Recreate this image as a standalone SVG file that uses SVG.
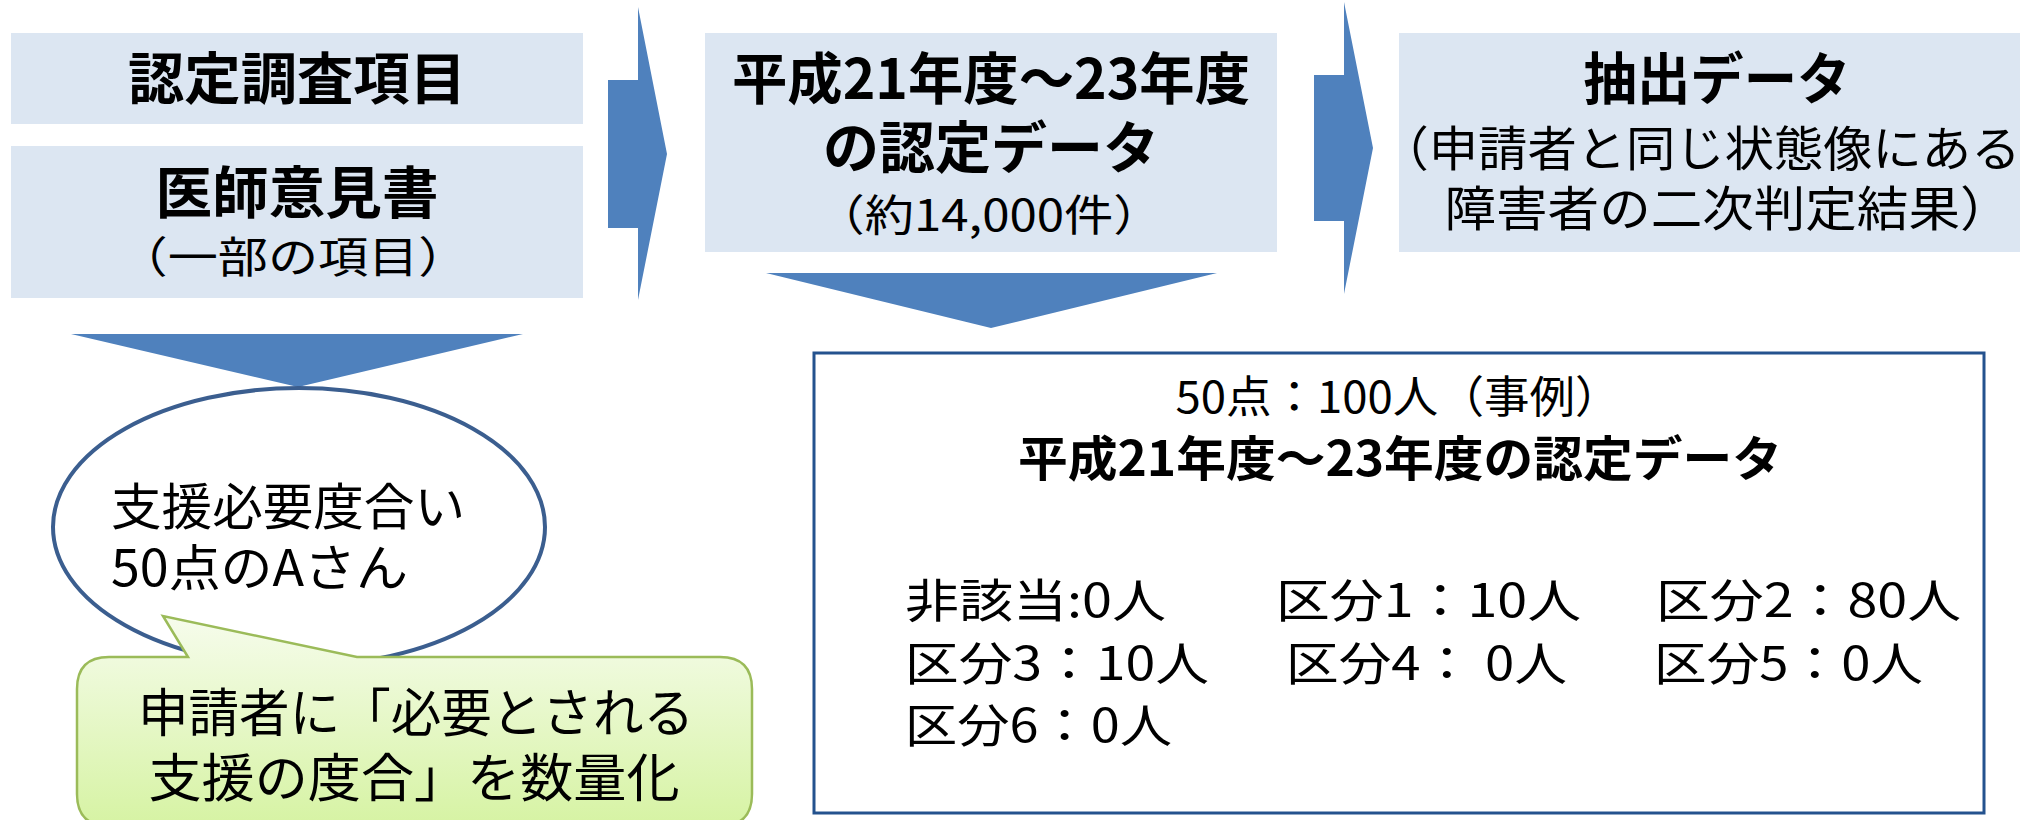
<svg xmlns="http://www.w3.org/2000/svg" width="2020" height="820" viewBox="0 0 2020 820">
<defs>
<linearGradient id="green" x1="0" y1="0" x2="0" y2="1">
<stop offset="0" stop-color="#f6fcec"/>
<stop offset="1" stop-color="#d6f3a3"/>
</linearGradient>
<style>
.box{fill:#dce6f2}
.arrow{fill:#4f81bd}
.t{font-family:"Noto Sans CJK JP","Noto Sans CJK SC",sans-serif;fill:#000}
.b{font-weight:bold}
.m{text-anchor:middle}
</style>
</defs>
<rect width="2020" height="820" fill="#fff"/>
<g id="connectors">
<polygon class="arrow" points="608,80 638,80 638,7 667,154 638,300 638,228 608,228"/>
<polygon class="arrow" points="1314,75 1344,75 1344,2 1373,148 1344,294 1344,221 1314,221"/>
<polygon class="arrow" points="766,273 1217,273 991,328"/>
<polygon class="arrow" points="71,334 523,334 298,387"/>
</g>
<g id="node-ninteichousa">
<rect class="box" x="11" y="33" width="572" height="91"/>
<text class="t b m" x="297" y="99" font-size="56" textLength="338" lengthAdjust="spacingAndGlyphs">認定調査項目</text>
</g>
<g id="node-ishiikensho">
<rect class="box" x="11" y="146" width="572" height="152"/>
<text class="t b m" x="297" y="213" font-size="56" textLength="283" lengthAdjust="spacingAndGlyphs">医師意見書</text>
<text class="t m" x="293" y="273" font-size="43" textLength="351" lengthAdjust="spacingAndGlyphs">（一部の項目）</text>
</g>
<g id="node-data">
<rect class="box" x="705" y="33" width="572" height="219"/>
<text class="t b m" x="991" y="99" font-size="56" textLength="518" lengthAdjust="spacingAndGlyphs">平成21年度～23年度</text>
<text class="t b m" x="991" y="168" font-size="56" textLength="336" lengthAdjust="spacingAndGlyphs">の認定データ</text>
<text class="t m" x="989" y="231" font-size="43" textLength="347" lengthAdjust="spacingAndGlyphs">（約14,000件）</text>
</g>
<g id="node-extract">
<rect class="box" x="1399" y="33" width="640" height="219"/>
<text class="t b m" x="1717" y="99" font-size="56" textLength="267" lengthAdjust="spacingAndGlyphs">抽出データ</text>
<text class="t m" x="1700" y="166" font-size="48" textLength="641" lengthAdjust="spacingAndGlyphs">（申請者と同じ状態像にある</text>
<text class="t m" x="1728" y="226" font-size="48" textLength="567" lengthAdjust="spacingAndGlyphs">障害者の二次判定結果）</text>
</g>
<g id="node-ellipse">
<ellipse cx="299" cy="527" rx="246" ry="139" fill="#fff" stroke="#3b5e8f" stroke-width="4"/>
<text class="t" x="111" y="525" font-size="50" textLength="354" lengthAdjust="spacingAndGlyphs">支援必要度合い</text>
<text class="t" x="111" y="586" font-size="50" textLength="297" lengthAdjust="spacingAndGlyphs">50点のAさん</text>
</g>
<g id="node-callout">
<path d="M109,657 L188,657 L163,616 L357,657 L720,657 Q752,657 752,689 L752,794 Q752,826 720,826 L109,826 Q77,826 77,794 L77,689 Q77,657 109,657 Z" fill="url(#green)" stroke="#9bbb59" stroke-width="2.5"/>
<text class="t m" x="416" y="732" font-size="52" textLength="556" lengthAdjust="spacingAndGlyphs">申請者に「必要とされる</text>
<text class="t m" x="414" y="797" font-size="52" textLength="531" lengthAdjust="spacingAndGlyphs">支援の度合」を数量化</text>
</g>
<g id="node-result">
<rect x="814" y="353" width="1170" height="460" fill="#fff" stroke="#24528e" stroke-width="3"/>
<text class="t m" x="1398" y="413" font-size="44" textLength="445" lengthAdjust="spacingAndGlyphs">50点：100人（事例）</text>
<text class="t b m" x="1400" y="476" font-size="48" textLength="764" lengthAdjust="spacingAndGlyphs">平成21年度～23年度の認定データ</text>
<text class="t" x="905" y="617" font-size="46" textLength="261" lengthAdjust="spacingAndGlyphs">非該当:0人</text>
<text class="t" x="1276" y="617" font-size="46" textLength="305" lengthAdjust="spacingAndGlyphs">区分1：10人</text>
<text class="t" x="1656" y="617" font-size="46" textLength="305" lengthAdjust="spacingAndGlyphs">区分2：80人</text>
<text class="t" x="905" y="680" font-size="46" textLength="304" lengthAdjust="spacingAndGlyphs">区分3：10人</text>
<text class="t" x="1286" y="680" font-size="46" textLength="281" lengthAdjust="spacingAndGlyphs">区分4： 0人</text>
<text class="t" x="1654" y="680" font-size="46" textLength="269" lengthAdjust="spacingAndGlyphs">区分5：0人</text>
<text class="t" x="905" y="742" font-size="46" textLength="267" lengthAdjust="spacingAndGlyphs">区分6：0人</text>
</g>
</svg>
